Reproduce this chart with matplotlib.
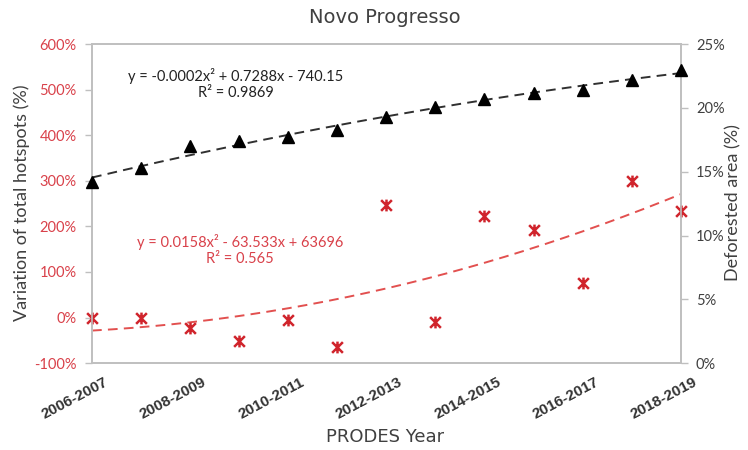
import numpy as np
import matplotlib
matplotlib.use("Agg")
import matplotlib.pyplot as plt
from matplotlib.path import Path
from matplotlib.transforms import offset_copy

# PRODES years (13 periods)
years = ["2006-2007", "2007-2008", "2008-2009", "2009-2010", "2010-2011",
         "2011-2012", "2012-2013", "2013-2014", "2014-2015", "2015-2016",
         "2016-2017", "2017-2018", "2018-2019"]
# Variation of total hotspots (%) - left axis
hotspots_var = [0, 0, -22, -51, -5, -65, 247, -9, 223, 192, 76, 300, 234]
# Deforested area (%) - right axis
deforested = [14.2, 15.3, 17.0, 17.4, 17.7, 18.3, 19.3, 20.1, 20.7, 21.2, 21.4, 22.2, 23.0]

left_ticks = [-100, 0, 100, 200, 300, 400, 500, 600]
right_ticks = [0, 5, 10, 15, 20, 25]

eq_black = "y = -0.0002x² + 0.7288x - 740.15\nR² = 0.9869"
eq_red = "y = 0.0158x² - 63.533x + 63696\nR² = 0.565"

RED = "#d0242c"
RED_TXT = "#d9414a"
RED_TREND = "#e2504f"
GRAY = "#bfbfbf"
TXT = "#404040"
BODY = "Lato"

fig = plt.figure(figsize=(7.48, 4.5), dpi=100)
ax = fig.add_axes([0.123, 0.193, 0.787, 0.709])
ax2 = ax.twinx()

x = np.arange(len(years))
xf = np.linspace(0, len(years) - 1, 300)

# star marker: a cross with a vertical stroke
star = Path([(-1, -1), (1, 1), (-1, 1), (1, -1), (0, -1.1), (0, 1.1)],
            [Path.MOVETO, Path.LINETO] * 3)

# hotspots series and its quadratic trend
c_red = np.polyfit(x, hotspots_var, 2)
ax.plot(xf, np.polyval(c_red, xf), color=RED_TREND, lw=1.4, ls=(0, (5, 3.2)))
ax.plot(x, hotspots_var, ls="none", marker=star, ms=8.5, mew=1.8,
        mec=RED, mfc="none", clip_on=False, zorder=5)

# deforested area series and its quadratic trend
c_blk = np.polyfit(x, deforested, 2)
ax2.plot(xf, np.polyval(c_blk, xf), color="#303030", lw=1.4, ls=(0, (5, 3.2)))
ax2.plot(x, deforested, ls="none", marker="^", ms=8.5, color="black",
         clip_on=False, zorder=5)

ax.set_xlim(0, len(years) - 1)
ax.set_ylim(-100, 600)
ax2.set_ylim(0, 25)
ax.set_yticks(left_ticks)
ax.set_yticklabels([f"{v}%" for v in left_ticks])
ax2.set_yticks(right_ticks)
ax2.set_yticklabels([f"{v}%" for v in right_ticks])

for a in (ax, ax2):
    for s in a.spines.values():
        s.set_color(GRAY)
        s.set_linewidth(1.2)
    a.tick_params(axis="y", length=5, width=1.0, color=GRAY, pad=6,
                  labelsize=10.5)

for lab in ax.get_yticklabels():
    lab.set_color(RED_TXT)
    lab.set_fontfamily(BODY)
for lab in ax2.get_yticklabels():
    lab.set_color(TXT)
    lab.set_fontfamily(BODY)

# x tick labels every other period
ax.set_xticks(x[::2])
ax.set_xticklabels([])
ax.tick_params(axis="x", length=0)
for xi in x[::2]:
    tr = offset_copy(ax.get_xaxis_transform(), fig=fig, x=12, y=-12, units="dots")
    ax.text(xi, 0, years[xi], transform=tr, rotation=28, rotation_mode="anchor",
            ha="right", va="top", fontsize=11, fontweight="bold",
            family="Liberation Sans", color="#333333")

fig.text(22 / 748, 1 - 203 / 450, "Variation of total hotspots (%)",
         fontsize=13, family=BODY, color=TXT, rotation=90,
         ha="center", va="center")
fig.text(733 / 748, 1 - 203 / 450, "Deforested area (%)",
         fontsize=13, family=BODY, color=TXT, rotation=90,
         ha="center", va="center")
fig.text(0.515, 0.029, "PRODES Year", fontsize=13, family="DejaVu Sans",
         color=TXT, ha="center", va="center")
fig.text(0.515, 0.962, "Novo Progresso", fontsize=14, family="DejaVu Sans",
         color=TXT, ha="center", va="center")

fig.text(236 / 748, 1 - 84 / 450, eq_black, fontsize=10.5, family=BODY,
         color="#222222", ha="center", va="center", multialignment="center",
         linespacing=1.15)
fig.text(240 / 748, 1 - 250 / 450, eq_red, fontsize=10.5, family=BODY,
         color=RED_TXT, ha="center", va="center", multialignment="center",
         linespacing=1.15)

fig.savefig("out.png", dpi=100)
